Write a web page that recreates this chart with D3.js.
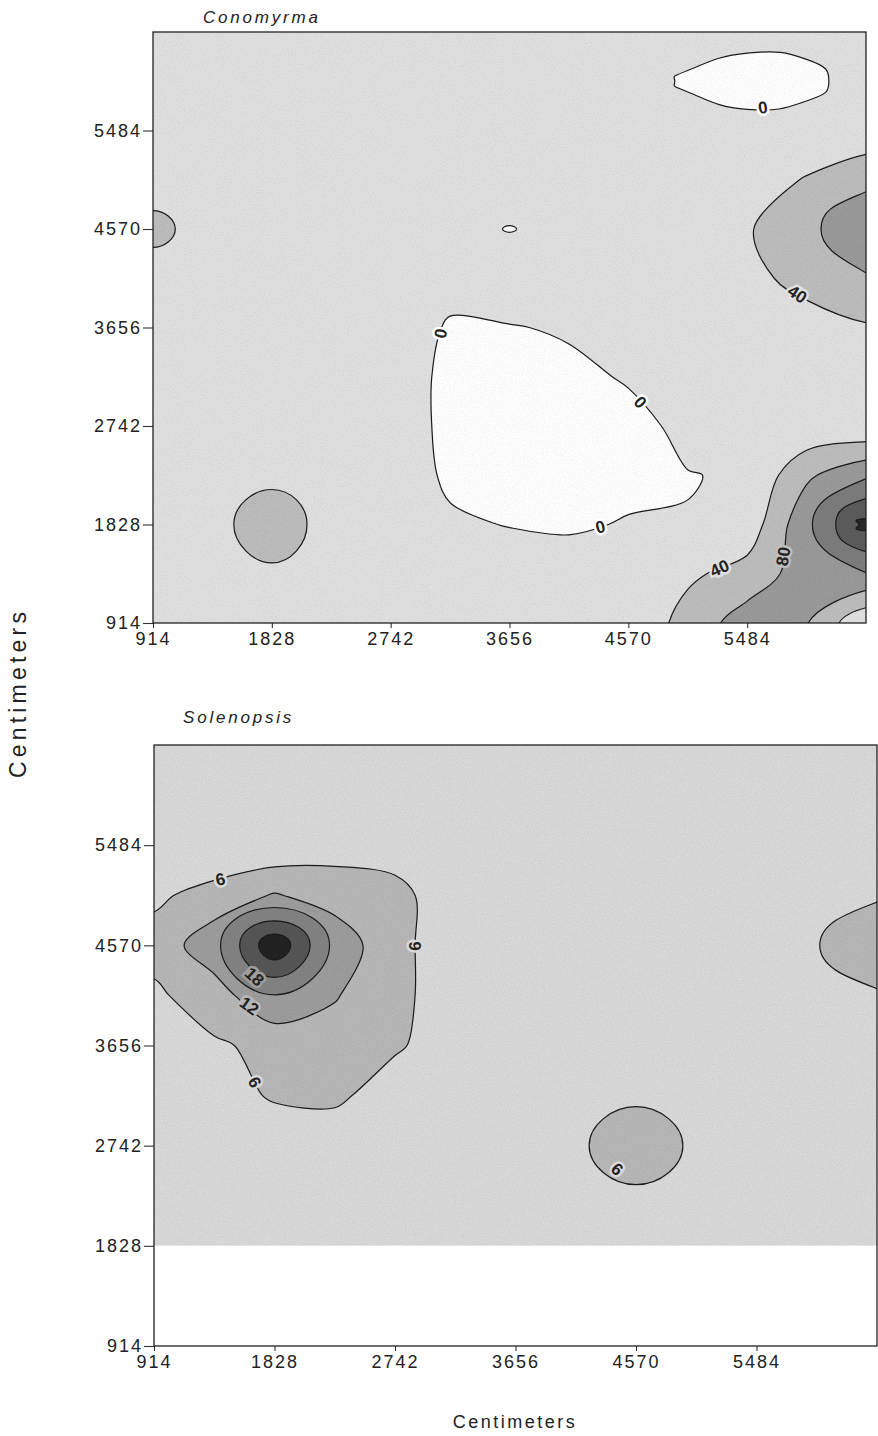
<!DOCTYPE html>
<html>
<head>
<meta charset="utf-8">
<script src="https://cdn.jsdelivr.net/npm/d3@7"></script>
<style>
  body { margin: 0; background: #fff; }
  text { font-family: "Liberation Sans", Arial, sans-serif; fill: #222; }
</style>
</head>
<body>
<svg id="chart" width="878" height="1436"></svg>
<script>
// grid of estimated values, one column / row every 457 cm
// columns from 457 to 6855 cm, rows from 6855 (top) down to 457 cm
const gridStep = 457;
const gridX0 = 457;
const gridYTop = 6855;
const tickValues = [914, 1828, 2742, 3656, 4570, 5484];
const axisMin = 914;
const axisMax = 6398;

// Conomyrma
const conLevels = [0, 40, 80, 120, 160, 200];
const conColors = ['#e0e0e0', '#bdbdbd', '#9a9a9a', '#7c7c7c', '#5c5c5c', '#2a2a2a'];
const conGrid = [
  [20, 20, 20, 20, 20, 20, 20, 20, 20, 20, 18, 15, 15, 18, 20],
  [20, 20, 20, 20, 20, 20, 20, 20, 20, 20, 18, 15, 15, 20, 20],
  [20, 20, 20, 20, 20, 20, 20, 20, 20, 18, -5, -20, -12, 20, 20],
  [20, 20, 20, 20, 20, 20, 20, 20, 20, 20, 18, 15, 18, 10, 15],
  [20, 20, 20, 20, 20, 20, 20, 28, 20, 20, 20, 25, 42, 72, 78],
  [20, 52, 20, 20, 20, 20, 15, -2, 15, 20, 20, 36, 72, 105, 110],
  [20, 20, 20, 20, 20, 15, 10, 28, 18, 20, 20, 30, 52, 77, 82],
  [20, 20, 20, 20, 20, 18, -3, -2, 4, 15, 20, 25, 25, 36, 38],
  [20, 20, 20, 20, 20, 18, -8, -12, -8, 3, 20, 20, 20, 20, 20],
  [20, 20, 20, 20, 20, 18, -8, -15, -15, -10, 8, 20, 8, 6, 8],
  [20, 20, 20, 27, 20, 18, -5, -12, -12, -8, -1, 3, 73, 113, 115],
  [20, 20, 22, 72, 18, 20, 4, -1, -4, 2, 1, 15, 110, 212, 210],
  [20, 20, 20, 31, 20, 20, 20, 15, 15, 15, 33, 55, 100, 118, 120],
  [20, 20, 20, 20, 20, 20, 20, 20, 15, 8, 55, 100, 82, 5, 5],
  [20, 20, 20, 20, 20, 20, 20, 20, 15, 10, 60, 105, 85, 5, 5]
];
// label spots (cm), snapped to the nearest point of that contour
const conLabels = [
  { level: 0, x: 5598, y: 5748 },
  { level: 40, x: 5829, y: 3893 },
  { level: 0, x: 3144, y: 3596 },
  { level: 0, x: 4752, y: 3057 },
  { level: 0, x: 4360, y: 1786 },
  { level: 40, x: 5267, y: 1434 },
  { level: 80, x: 5790, y: 1526 }
];

// Solenopsis
const solLevels = [6, 12, 18, 24, 30];
const solColors = ['#b7b7b7', '#9d9d9d', '#838383', '#565656', '#222222'];
const solGrid = [
  [3, 3, 3, 3, 3, 3, 3, 3, 3, 3, 3, 3, 3, 3, 3],
  [3, 3, 3, 3, 3, 3, 3, 3, 3, 3, 3, 3, 3, 3, 3],
  [3, 3, 3, 3, 3, 3, 3, 3, 3, 3, 3, 3, 3, 3, 3],
  [3, 3, 1.3, 1, 3.8, 4.5, 3, 3, 3, 3, 3, 3, 3, 3, 3],
  [4, 5, 8, 12.5, 9, 7, 4, 3, 3, 3, 3, 3, 3, 5.4, 5.5],
  [8, 8, 16, 35, 16.4, 7, 4, 3, 3, 3, 3, 3, 5.8, 9.8, 10],
  [5, 5, 9, 17.8, 12.5, 7, 4, 3, 3, 3, 3, 3, 3, 5.4, 5.5],
  [3, 3, 5.3, 7.4, 9, 6.5, 4, 3, 3, 3, 3, 3, 3, 3, 3],
  [3, 3, 4, 6.5, 6.8, 4, 3, 3, 3, 5, 3, 3, 3, 3, 3],
  [3, 3, 3, 3, 3.5, 3, 3, 3, 5, 9.5, 5, 3, 3, 3, 3],
  [3, 3, 3, 3, 3, 3, 3, 3, 3, 5, 3, 3, 3, 3, 3],
  [3, 3, 3, 3, 3, 3, 3, 3, 3, 3, 3, 3, 3, 3, 3],
  [3, 3, 3, 3, 3, 3, 3, 3, 3, 3, 3, 3, 3, 3, 3],
  [3, 3, 3, 3, 3, 3, 3, 3, 3, 3, 3, 3, 3, 3, 3],
  [3, 3, 3, 3, 3, 3, 3, 3, 3, 3, 3, 3, 3, 3, 3]
];
const solLabels = [
  { level: 6, x: 1415, y: 5184 },
  { level: 6, x: 2871, y: 4564 },
  { level: 18, x: 1604, y: 4190 },
  { level: 12, x: 1604, y: 3962 },
  { level: 6, x: 1642, y: 3296 },
  { level: 6, x: 4358, y: 2429 }
];
const solDataBottom = 1828;  // no shading below this

const svg = d3.select('#chart');
// small rings get a rounder curve, longer ones a plain catmull-rom
const roundLine = d3.line().curve(d3.curveCardinalClosed.tension(-0.55));
const ringLine = d3.line().curve(d3.curveCatmullRomClosed.alpha(0.5));

function ringPath(pts) {
  // drop points that sit almost on top of the previous one
  const out = [];
  pts.forEach(q => {
    const last = out[out.length - 1];
    if (!last || Math.hypot(q[0] - last[0], q[1] - last[1]) > 3) out.push(q);
  });
  if (out.length > 2 && Math.hypot(out[0][0] - out[out.length - 1][0], out[0][1] - out[out.length - 1][1]) <= 3) out.pop();
  return out.length <= 8 ? roundLine(out) : ringLine(out);
}

// paper grain
const grain = svg.append('defs').append('filter').attr('id', 'grain')
  .attr('x', 0).attr('y', 0).attr('width', 1).attr('height', 1);
grain.append('feTurbulence').attr('type', 'fractalNoise')
  .attr('baseFrequency', 0.9).attr('numOctaves', 2).attr('seed', 3);
grain.append('feColorMatrix').attr('type', 'matrix')
  .attr('values', '0 0 0 0 0  0 0 0 0 0  0 0 0 0 0  0 0 0 -1.4 0.9');

function drawPanel(p) {
  const x = d3.scaleLinear().domain([axisMin, axisMax]).range([p.left, p.right]);
  const y = d3.scaleLinear().domain([axisMin, axisMax]).range([p.bottom, p.top]);
  const g = svg.append('g');

  const clipId = 'clip-' + p.id;
  svg.append('clipPath').attr('id', clipId).append('rect')
    .attr('x', p.left).attr('y', y(axisMax))
    .attr('width', p.right - p.left)
    .attr('height', y(p.dataBottom) - y(axisMax));

  g.append('rect')
    .attr('x', p.left).attr('y', p.top)
    .attr('width', p.right - p.left).attr('height', p.bottom - p.top)
    .attr('fill', '#fff');

  const plot = g.append('g').attr('clip-path', `url(#${clipId})`);
  plot.append('rect')
    .attr('x', p.left).attr('y', y(axisMax))
    .attr('width', p.right - p.left)
    .attr('height', y(p.dataBottom) - y(axisMax))
    .attr('fill', p.baseColor);

  const nx = p.grid[0].length, ny = p.grid.length;
  const contours = d3.contours().size([nx, ny]).thresholds(p.levels)(p.grid.flat());

  const toPx = pt => [
    x(gridX0 + (pt[0] - 0.5) * gridStep),
    y(gridYTop - (pt[1] - 0.5) * gridStep)
  ];
  const pathFor = c => c.coordinates
    .map(poly => poly.map(ring => ringPath(ring.slice(0, -1).map(toPx))).join(''))
    .join('');

  contours.forEach((c, i) => {
    plot.append('path')
      .attr('d', pathFor(c))
      .attr('fill', p.colors[i])
      .attr('fill-rule', 'evenodd');
  });
  // light grain over shaded parts
  plot.append('rect')
    .attr('x', p.left).attr('y', y(axisMax))
    .attr('width', p.right - p.left)
    .attr('height', y(p.dataBottom) - y(axisMax))
    .attr('filter', 'url(#grain)')
    .attr('opacity', 0.08);
  contours.forEach(c => {
    plot.append('path')
      .attr('d', pathFor(c))
      .attr('fill', 'none')
      .attr('stroke', '#1a1a1a')
      .attr('stroke-width', 1.2);
  });

  // contour labels, placed on the nearest segment of the contour
  p.labels.forEach(lab => {
    const i = p.levels.indexOf(lab.level);
    const c = contours[i];
    const tx = x(lab.x), ty = y(lab.y);
    let best = null;
    c.coordinates.forEach(poly => poly.forEach(ring => {
      const pts = ring.map(toPx);
      for (let j = 0; j < pts.length - 1; j++) {
        const a = pts[j], b = pts[j + 1];
        const vx = b[0] - a[0], vy = b[1] - a[1];
        const len2 = vx * vx + vy * vy || 1;
        const t = Math.max(0, Math.min(1, ((tx - a[0]) * vx + (ty - a[1]) * vy) / len2));
        const q = [a[0] + t * vx, a[1] + t * vy];
        const d = (q[0] - tx) ** 2 + (q[1] - ty) ** 2;
        if (!best || d < best.d) best = { d: d, q: q, ang: Math.atan2(vy, vx) * 180 / Math.PI };
      }
    }));
    if (!best) return;
    let ang = best.ang;
    if (ang > 90) ang -= 180;
    if (ang < -90) ang += 180;
    const knock = i === 0 ? p.baseColor : p.colors[i - 1];
    plot.append('text')
      .attr('transform', `translate(${best.q[0]},${best.q[1]}) rotate(${ang})`)
      .attr('text-anchor', 'middle')
      .attr('dy', '0.36em')
      .style('font-size', '17px')
      .style('font-weight', 'bold')
      .style('paint-order', 'stroke')
      .style('stroke', knock)
      .style('stroke-width', 5)
      .style('fill', '#222')
      .text(lab.level);
  });

  // axes
  const xAxis = d3.axisBottom(x).tickValues(tickValues).tickFormat(d3.format('d'))
    .tickSize(5).tickPadding(4).tickSizeOuter(0);
  const yAxis = d3.axisLeft(y).tickValues(tickValues).tickFormat(d3.format('d'))
    .tickSize(10).tickPadding(1).tickSizeOuter(0);
  const gx = g.append('g').attr('transform', `translate(0,${p.bottom})`).call(xAxis);
  const gy = g.append('g').attr('transform', `translate(${p.left},0)`).call(yAxis);
  [gx, gy].forEach(a => {
    a.select('.domain').remove();
    a.selectAll('line').attr('stroke', '#333').attr('stroke-width', 1.1);
    a.selectAll('text')
      .style('font-size', '18px')
      .style('letter-spacing', '2px')
      .style('fill', '#222');
  });

  g.append('rect')
    .attr('x', p.left).attr('y', p.top)
    .attr('width', p.right - p.left).attr('height', p.bottom - p.top)
    .attr('fill', 'none').attr('stroke', '#222').attr('stroke-width', 1.3);

  g.append('text')
    .attr('x', p.titleX).attr('y', p.titleY)
    .style('font-size', '17px')
    .style('font-style', 'italic')
    .style('letter-spacing', '2.8px')
    .text(p.title);
}

drawPanel({
  id: 'con', left: 153, right: 866, top: 32, bottom: 623,
  grid: conGrid, levels: conLevels, colors: conColors,
  baseColor: '#ffffff', dataBottom: axisMin, labels: conLabels,
  title: 'Conomyrma', titleX: 203, titleY: 23
});

drawPanel({
  id: 'sol', left: 154, right: 877, top: 745, bottom: 1346,
  grid: solGrid, levels: solLevels, colors: solColors,
  baseColor: '#d9d9d9', dataBottom: solDataBottom, labels: solLabels,
  title: 'Solenopsis', titleX: 183, titleY: 723
});

// axis titles
svg.append('text')
  .attr('transform', 'translate(26,693) rotate(-90)')
  .attr('text-anchor', 'middle')
  .style('font-size', '23px')
  .style('letter-spacing', '4.2px')
  .text('Centimeters');

svg.append('text')
  .attr('x', 515).attr('y', 1428)
  .attr('text-anchor', 'middle')
  .style('font-size', '18px')
  .style('letter-spacing', '2.5px')
  .text('Centimeters');
</script>
</body>
</html>
